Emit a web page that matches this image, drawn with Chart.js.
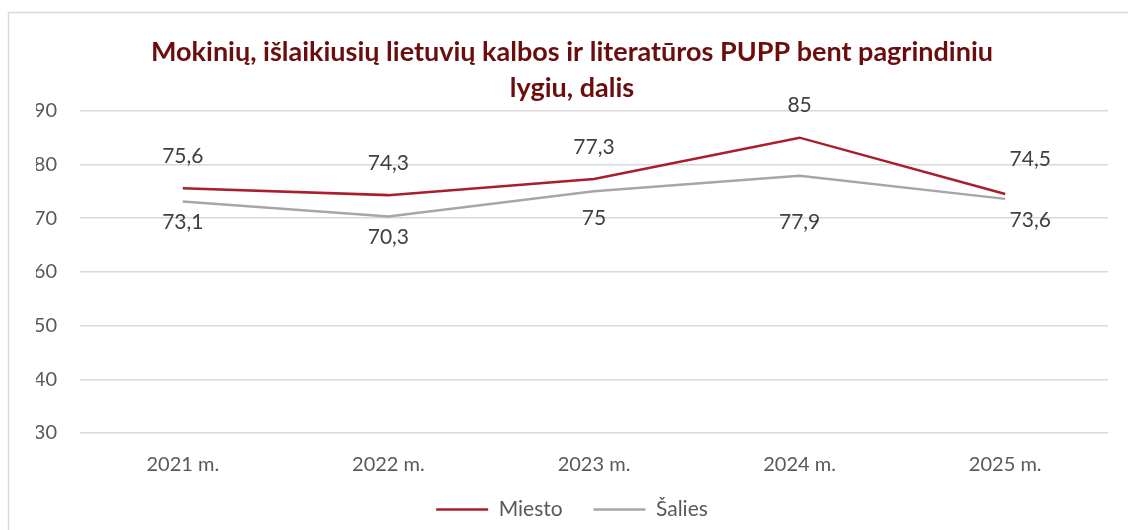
<!DOCTYPE html>
<html>
<head>
<meta charset="utf-8">
<script src="https://cdn.jsdelivr.net/npm/chart.js@4/dist/chart.umd.min.js"></script>
<style>
html,body{margin:0;padding:0;background:#fff;}
#wrap{position:absolute;left:0;top:0;width:1128px;height:530px;}
</style>
</head>
<body>
<div id="wrap"><canvas id="c" width="1128" height="530"></canvas></div>
<script>
const categories = ["2021 m.", "2022 m.", "2023 m.", "2024 m.", "2025 m."];
const miesto = [75.6, 74.3, 77.3, 85, 74.5];
const salies = [73.1, 70.3, 75, 77.9, 73.6];
const seriesNames = ["Miesto", "Šalies"];
const titleLines = ["Mokinių, išlaikiusių lietuvių kalbos ir literatūros PUPP bent pagrindiniu", "lygiu, dalis"];

const FONT = "Lato, 'Open Sans', sans-serif";
const RED = "#A91E2B";
const GREY = "#A6A6A6";

// label placement style: dataset 0 above, dataset 1 below; small per-point nudges
const labelStyle = [
  {dy: -32, nudge: [[0,0],[0,0],[0,0],[0,0],[25,-3]]},
  {dy: 21, nudge: [[0,0],[0,0],[0,6],[0,25],[25,0]]}
];

const fmt = v => String(v).replace('.', ',');

const labelPlugin = {
  id: 'pointLabels',
  afterDatasetsDraw(chart) {
    const ctx = chart.ctx;
    ctx.save();
    ctx.font = "21px " + FONT;
    ctx.fillStyle = "#404040";
    ctx.textAlign = "center";
    ctx.textBaseline = "middle";
    chart.data.datasets.forEach((ds, di) => {
      const meta = chart.getDatasetMeta(di);
      meta.data.forEach((pt, i) => {
        const st = labelStyle[di];
        const n = st.nudge[i] || [0,0];
        ctx.fillText(fmt(ds.data[i]), pt.x + n[0], pt.y + st.dy + n[1]);
      });
    });
    ctx.restore();
  }
};

const borderPlugin = {
  id: 'outerBorder',
  beforeDraw(chart) {
    const ctx = chart.ctx;
    ctx.save();
    ctx.fillStyle = "#fff";
    ctx.fillRect(0, 0, chart.width, chart.height);
    ctx.strokeStyle = "#D9D9D9";
    ctx.lineWidth = 1.5;
    ctx.beginPath();
    ctx.moveTo(8.5, chart.height);
    ctx.lineTo(8.5, 12.5);
    ctx.lineTo(chart.width, 12.5);
    ctx.stroke();
    ctx.restore();
  }
};

new Chart(document.getElementById('c'), {
  type: 'line',
  data: {
    labels: categories,
    datasets: [
      {label: seriesNames[0], data: miesto, borderColor: RED, backgroundColor: RED, borderWidth: 2.5, pointRadius: 0, tension: 0},
      {label: seriesNames[1], data: salies, borderColor: GREY, backgroundColor: GREY, borderWidth: 2.5, pointRadius: 0, tension: 0}
    ]
  },
  options: {
    responsive: false,
    animation: false,
    layout: {padding: {top: 34, right: 20, bottom: 0, left: 36}},
    plugins: {
      title: {
        display: true,
        text: titleLines,
        color: "#6B0D0D",
        font: {family: FONT, size: 27, weight: 'bold', lineHeight: 1.33},
        padding: {top: 0, bottom: 5}
      },
      legend: {
        display: true,
        position: 'bottom',
        labels: {
          color: "#595959",
          font: {family: FONT, size: 21},
          boxWidth: 52,
          boxHeight: 0,
          padding: 2,
          generateLabels(chart) {
            return chart.data.datasets.map((ds, i) => ({
              text: i === 0 ? ds.label + "\u2003\u2002\u2009" : ds.label,
              strokeStyle: ds.borderColor,
              fillStyle: ds.borderColor,
              lineWidth: 2.5,
              hidden: false,
              datasetIndex: i,
              fontColor: "#595959"
            }));
          }
        }
      },
      tooltip: {enabled: false}
    },
    scales: {
      x: {
        offset: true,
        grid: {display: false, drawTicks: false},
        border: {display: false},
        ticks: {color: "#595959", font: {family: FONT, size: 20}, padding: 20}
      },
      y: {
        min: 30, max: 90,
        afterFit(scale) { scale.width = 44; },
        grid: {color: "#D9D9D9", lineWidth: 1.5, drawTicks: false},
        border: {display: false},
        ticks: {stepSize: 10, color: "#595959", font: {family: FONT, size: 20}, padding: 23}
      }
    }
  },
  plugins: [borderPlugin, labelPlugin]
});
</script>
</body>
</html>
